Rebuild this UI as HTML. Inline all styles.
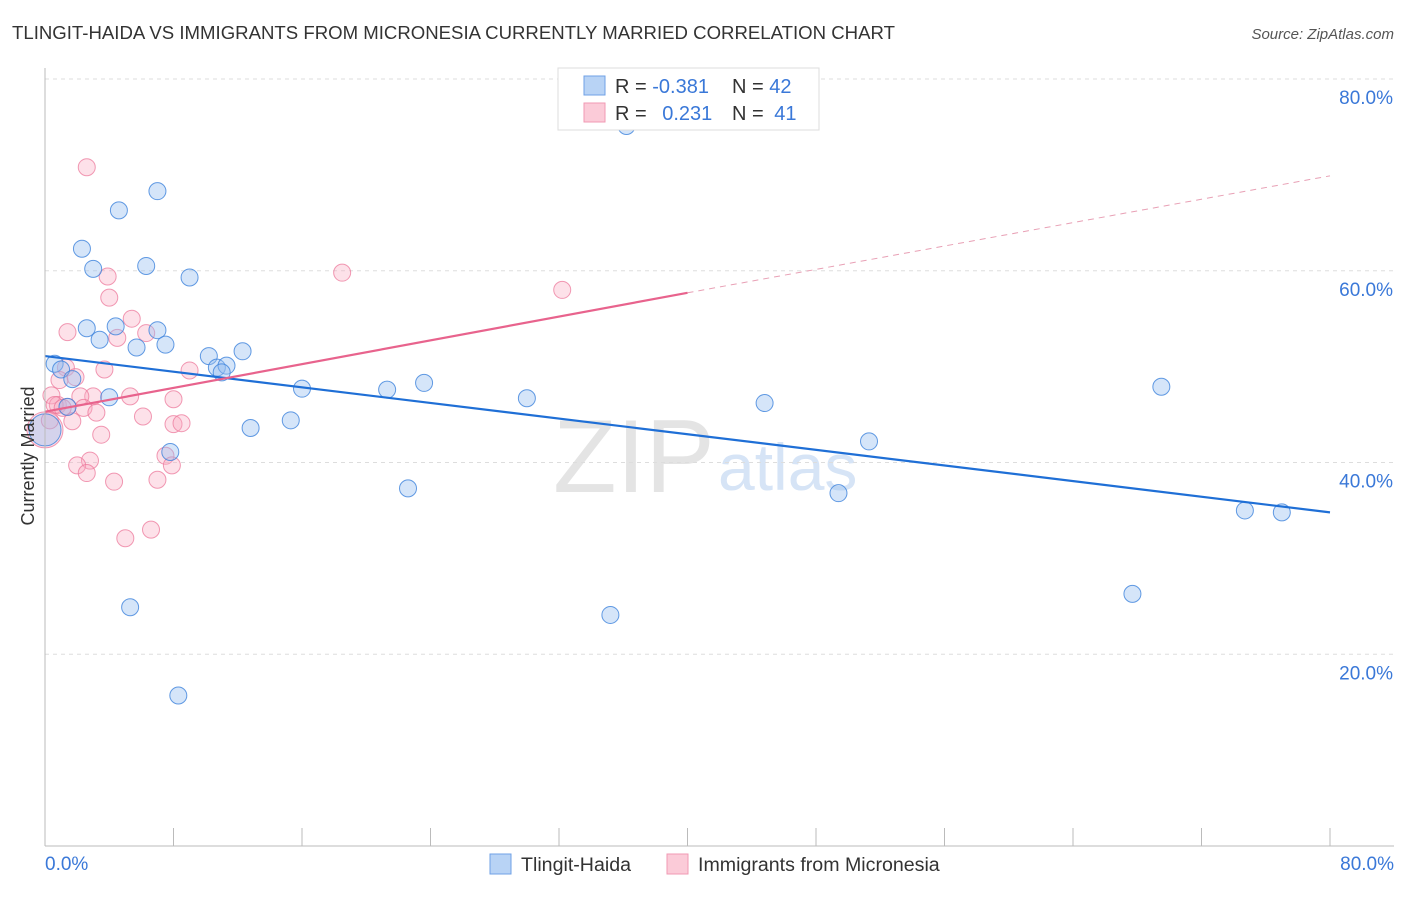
<!DOCTYPE html>
<html><head><meta charset="utf-8"><style>
body{margin:0;background:#fff;font-family:"Liberation Sans",sans-serif;}
svg text{font-family:"Liberation Sans",sans-serif;}
</style></head><body>
<svg id="chart" width="1406" height="892">
<text x="12" y="39" font-size="18.6" fill="#333">TLINGIT-HAIDA VS IMMIGRANTS FROM MICRONESIA CURRENTLY MARRIED CORRELATION CHART</text>
<text x="1394" y="39" font-size="15" fill="#555" text-anchor="end" font-style="italic">Source: ZipAtlas.com</text>
<text x="553" y="492" font-size="104" fill="#e4e4e4" font-family="Liberation Serif">ZIP</text>
<text x="718" y="490" font-size="66" fill="#d6e4f6">atlas</text>
<g id="grid"></g><g id="pts"></g><g id="lines"></g>
<line x1="45" y1="68" x2="45" y2="846" stroke="#bbb"/>
<line x1="45" y1="846" x2="1394" y2="846" stroke="#bbb"/>
<text x="34" y="456" font-size="18" fill="#333" text-anchor="middle" transform="rotate(-90 34 456)">Currently Married</text>
<text x="45" y="870" font-size="19" fill="#3a78d8">0.0%</text>
<text x="1394" y="870" font-size="19" fill="#3a78d8" text-anchor="end">80.0%</text>
<g>
<rect x="558" y="68" width="261" height="62" fill="#fff" stroke="#ddd"/>
<rect x="584" y="76" width="21" height="19" fill="#b8d3f5" stroke="#6fa0e6"/>
<rect x="584" y="103" width="21" height="19" fill="#fbcbd8" stroke="#f09ab3"/>
<text x="615" y="93" font-size="20" fill="#333">R = <tspan fill="#3a78d8">-0.381</tspan></text>
<text x="732" y="93" font-size="20" fill="#333">N = <tspan fill="#3a78d8">42</tspan></text>
<text x="615" y="120" font-size="20" fill="#333">R = <tspan fill="#3a78d8" dx="10">0.231</tspan></text>
<text x="732" y="120" font-size="20" fill="#333">N = <tspan fill="#3a78d8" dx="5">41</tspan></text>
</g>
<g>
<rect x="490" y="854" width="21" height="20" fill="#b8d3f5" stroke="#6fa0e6"/>
<text x="521" y="871" font-size="19.6" fill="#333">Tlingit-Haida</text>
<rect x="667" y="854" width="21" height="20" fill="#fbcbd8" stroke="#f09ab3"/>
<text x="698" y="871" font-size="19.6" fill="#333">Immigrants from Micronesia</text>
</g>
</svg>
<script>
const yTicks=[20,40,60,80];
const xTicks=[0,8,16,24,32,40,48,56,64,72,80];
const blueX=[36.2,7.0,4.6,2.3,3.0,6.3,9.0,2.6,4.4,7.0,3.4,5.7,7.5,10.2,12.3,0.6,1.0,1.7,10.7,11.3,11.0,16.0,21.3,23.6,30.0,44.8,69.5,4.0,1.4,12.8,15.3,51.3,7.8,22.6,49.4,74.7,77.0,5.3,67.7,35.2,8.3,0.0];
const blueY=[75.1,68.3,66.3,62.3,60.2,60.5,59.3,54.0,54.2,53.8,52.8,52.0,52.3,51.1,51.6,50.3,49.7,48.7,49.9,50.1,49.4,47.7,47.6,48.3,46.7,46.2,47.9,46.8,45.8,43.6,44.4,42.2,41.1,37.3,36.8,35.0,34.8,24.9,26.3,24.1,15.7,43.4];
const pinkX=[2.6,3.9,4.0,18.5,32.2,5.4,1.4,4.5,6.3,3.7,1.3,9.0,0.9,1.9,0.4,3.0,5.3,2.2,8.0,0.8,1.4,2.4,3.2,6.1,1.7,8.0,8.5,3.5,7.5,2.8,2.0,7.9,2.6,4.3,7.0,6.6,5.0,0.0,0.6,1.1,0.3];
const pinkY=[70.8,59.4,57.2,59.8,58.0,55.0,53.6,53.0,53.5,49.7,49.9,49.6,48.6,48.9,47.0,46.9,46.9,46.9,46.6,46.0,45.8,45.7,45.2,44.8,44.3,44.0,44.1,42.9,40.7,40.2,39.7,39.7,38.9,38.0,38.2,33.0,32.1,43.4,46.0,45.7,44.4];
const blueLine=[0,51.1,80,34.8];
const pinkLine=[0,45.3,40,57.7,80,69.9];
const X=v=>45+v/80*1285, Y=v=>846-v/80*767;
const NS='http://www.w3.org/2000/svg';
function mk(t,a,p){const e=document.createElementNS(NS,t);for(const k in a)e.setAttribute(k,a[k]);p.appendChild(e);return e;}
const grid=document.getElementById('grid');
yTicks.forEach(t=>{
const l=mk('line',{x1:45,x2:1394,y1:Y(t),y2:Y(t),stroke:'#ddd','stroke-dasharray':'4,4'},grid);


const tx=mk('text',{x:1393,y:Y(t)+25,'font-size':19,fill:'#3a78d8','text-anchor':'end'},grid);
tx.textContent=t.toFixed(1)+'%';


});
xTicks.forEach(t=>{
const l=mk('line',{x1:X(t),x2:X(t),y1:828,y2:846,stroke:'#bbb'},grid);


});
const pts=document.getElementById('pts');
pinkX.forEach((v,i)=>{
const c=mk('circle',{cx:X(v),cy:Y(pinkY[i]),r:i==37?18:8.5,fill:'rgba(248,170,192,0.35)',stroke:'rgba(236,120,155,0.75)','stroke-width':1},pts);


});
blueX.forEach((v,i)=>{
const c=mk('circle',{cx:X(v),cy:Y(blueY[i]),r:i==41?16:8.5,fill:'rgba(150,190,240,0.4)',stroke:'rgba(60,130,220,0.8)','stroke-width':1},pts);


});
const lines=document.getElementById('lines');
let l=mk('line',{x1:X(blueLine[0]),y1:Y(blueLine[1]),x2:X(blueLine[2]),y2:Y(blueLine[3]),stroke:'#1f6fd6','stroke-width':2.2},lines);


l=mk('line',{x1:X(pinkLine[0]),y1:Y(pinkLine[1]),x2:X(pinkLine[2]),y2:Y(pinkLine[3]),stroke:'#e8638d','stroke-width':2.2},lines);


l=mk('line',{x1:X(pinkLine[2]),y1:Y(pinkLine[3]),x2:X(pinkLine[4]),y2:Y(pinkLine[5]),stroke:'#e8a0b5','stroke-width':1,'stroke-dasharray':'6,5'},lines);


</script>
</body></html>
